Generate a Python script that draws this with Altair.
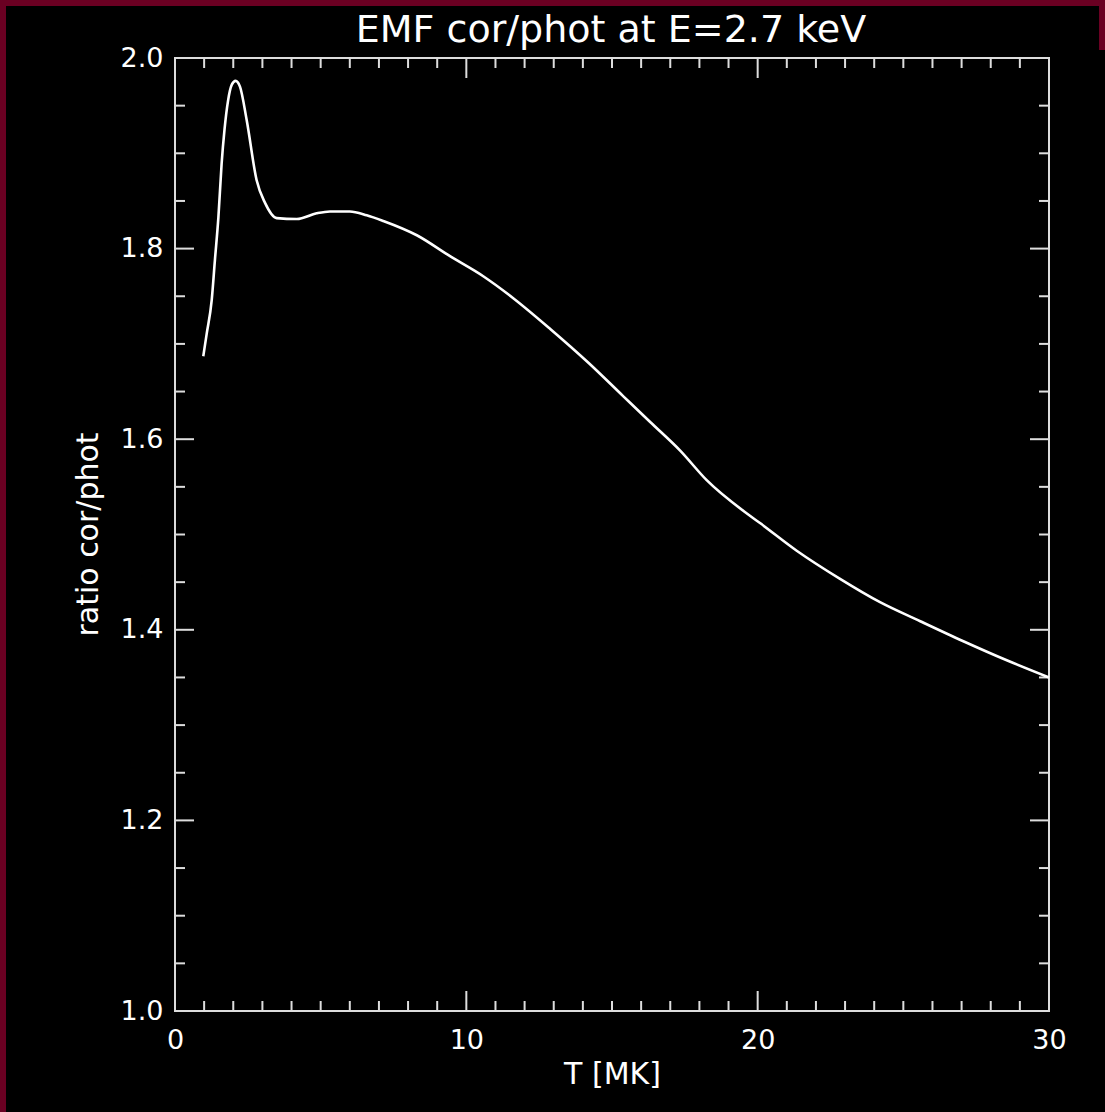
import altair as alt
import pandas as pd

# ---- data ----
T_MK = [0.97, 1.09, 1.26, 1.37, 1.49, 1.60, 1.70, 1.82, 1.95, 2.08, 2.23, 2.46,
        2.80, 3.09, 3.49, 4.18, 4.86, 5.32, 6.00, 6.58, 7.15, 8.30, 9.44, 10.58,
        11.61, 12.87, 14.20, 15.39, 16.31, 17.34, 18.25, 19.63, 20.08, 21.34,
        22.80, 24.20, 25.58, 27.06, 28.55, 30.00]
RATIO = [1.687, 1.711, 1.746, 1.788, 1.833, 1.889, 1.925, 1.955, 1.972, 1.976,
         1.970, 1.935, 1.872, 1.848, 1.832, 1.831, 1.837, 1.839, 1.839, 1.835,
         1.829, 1.814, 1.792, 1.771, 1.748, 1.716, 1.680, 1.645, 1.618, 1.588,
         1.557, 1.522, 1.512, 1.483, 1.454, 1.429, 1.409, 1.388, 1.368, 1.350]

X_MAJOR = [0, 10, 20, 30]
X_MINOR = [1, 2, 3, 4, 5, 6, 7, 8, 9, 11, 12, 13, 14, 15, 16, 17, 18, 19,
           21, 22, 23, 24, 25, 26, 27, 28, 29]
Y_MAJOR = [1.0, 1.2, 1.4, 1.6, 1.8, 2.0]
Y_MINOR = [1.05, 1.10, 1.15, 1.25, 1.30, 1.35, 1.45, 1.50, 1.55, 1.65, 1.70,
           1.75, 1.85, 1.90, 1.95]

TITLE = "EMF cor/phot at E=2.7 keV"
X_TITLE = "T [MK]"
Y_TITLE = "ratio cor/phot"

# ---- styling ----
W, H = 874, 953
FONT = "DejaVu Sans"
FG = "#dddddd"
MAROON = "#6a0022"

xs = alt.Scale(domain=[0, 30], nice=False, zero=False)
ys = alt.Scale(domain=[1.0, 2.0], nice=False, zero=False)

X_AXIS = alt.Axis(
    values=X_MAJOR, ticks=False, domain=False, grid=False, zindex=1,
    labelFont=FONT, labelFontSize=27, labelColor="white",
    labelPadding=16, labelFlush=False, labelOverlap=False,
    title=X_TITLE, titleFont=FONT, titleFontSize=30,
    titleFontWeight="normal", titleColor="white",
    titleX=437, titleY=63, titleBaseline="middle", titleAlign="center")
Y_AXIS = alt.Axis(
    values=Y_MAJOR, format=".1f", ticks=False, domain=False, grid=False,
    zindex=1,
    labelFont=FONT, labelFontSize=27, labelColor="white",
    labelPadding=12, labelFlush=False, labelOverlap=False,
    title=Y_TITLE, titleFont=FONT, titleFontSize=30,
    titleFontWeight="normal", titleColor="white", titleAngle=270,
    titleX=-87, titleY=476, titleBaseline="middle", titleAlign="center")

# black page area over the maroon background
one = pd.DataFrame({"k": [0]})
bg1 = alt.Chart(one).mark_rect(color="black").encode(
    x=alt.value(-169), x2=alt.value(924), y=alt.value(-52), y2=alt.value(1054))
bg2 = alt.Chart(one).mark_rect(color="black").encode(
    x=alt.value(924), x2=alt.value(930), y=alt.value(-8), y2=alt.value(1054))

# plot frame
frame = alt.Chart(one).mark_rect(filled=False, stroke=FG, strokeWidth=2).encode(
    x=alt.value(0), x2=alt.value(W), y=alt.value(0), y2=alt.value(H))

# chart title
title = alt.Chart(one).mark_text(
    text=TITLE, font=FONT, fontSize=38, color="white", align="center",
    baseline="alphabetic").encode(x=alt.value(436), y=alt.value(-16))


def x_ticks(vals, length):
    base = alt.Chart(pd.DataFrame({"t": vals}))
    enc_x = alt.X("t:Q", scale=xs, axis=X_AXIS)
    bottom = base.mark_rule(color=FG, strokeWidth=2).encode(
        x=enc_x, y=alt.value(H), y2=alt.value(H - length))
    top = base.mark_rule(color=FG, strokeWidth=2).encode(
        x=enc_x, y=alt.value(0), y2=alt.value(length))
    return [bottom, top]


def y_ticks(vals, length):
    base = alt.Chart(pd.DataFrame({"v": vals}))
    enc_y = alt.Y("v:Q", scale=ys, axis=Y_AXIS)
    left = base.mark_rule(color=FG, strokeWidth=2).encode(
        y=enc_y, x=alt.value(0), x2=alt.value(length))
    right = base.mark_rule(color=FG, strokeWidth=2).encode(
        y=enc_y, x=alt.value(W), x2=alt.value(W - length))
    return [left, right]


ticks = (x_ticks(X_MAJOR, 20) + x_ticks(X_MINOR, 10)
         + y_ticks(Y_MAJOR, 19) + y_ticks(Y_MINOR, 10))

line_df = pd.DataFrame({"T": T_MK, "ratio": RATIO})
line = alt.Chart(line_df).mark_line(
    color="white", strokeWidth=2.6, interpolate="monotone").encode(
    x=alt.X("T:Q", scale=xs, axis=X_AXIS),
    y=alt.Y("ratio:Q", scale=ys, axis=Y_AXIS),
)

chart = alt.layer(bg1, bg2, title, frame, *ticks, line).properties(
    width=W, height=H,
    padding={"left": 175, "top": 58, "right": 56, "bottom": 101},
    autosize=alt.AutoSizeParams(type="none"),
).configure(background=MAROON).configure_view(stroke=None)

chart.save("out.html", embed_options={"renderer": "svg", "actions": False})
